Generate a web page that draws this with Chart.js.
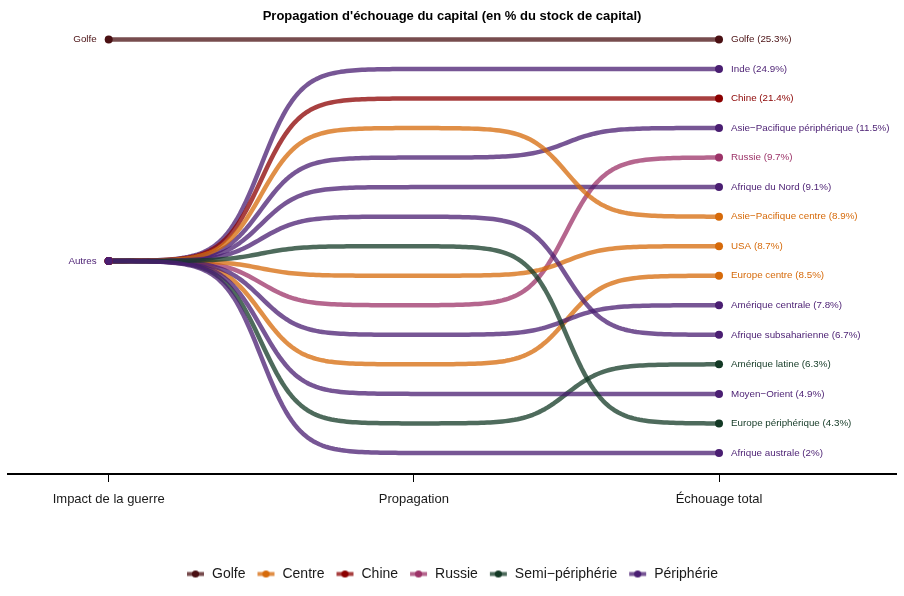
<!DOCTYPE html>
<html><head><meta charset="utf-8">
<script src="https://cdn.jsdelivr.net/npm/chart.js@4.4.1/dist/chart.umd.min.js"></script>
<style>html,body{margin:0;padding:0;background:#fff}#wrap{width:904px;height:596px;position:relative}</style>
</head><body><div id="wrap"><canvas id="c"></canvas></div>
<script>
// ---- data ----
const stageLabels = ['Impact de la guerre', 'Propagation', 'Échouage total'];
const stageX = [0, 1, 2];
const regions = ['Golfe', 'Inde', 'Chine', 'Asie−Pacifique périphérique', 'Russie', 'Afrique du Nord',
  'Asie−Pacifique centre', 'USA', 'Europe centre', 'Amérique centrale', 'Afrique subsaharienne',
  'Amérique latine', 'Moyen−Orient', 'Europe périphérique', 'Afrique australe'];
const regionGroups = ['Golfe', 'Périphérie', 'Chine', 'Périphérie', 'Russie', 'Périphérie',
  'Centre', 'Centre', 'Centre', 'Périphérie', 'Périphérie',
  'Semi−périphérie', 'Périphérie', 'Semi−périphérie', 'Périphérie'];
const strandingPct = [25.3, 24.9, 21.4, 11.5, 9.7, 9.1, 8.9, 8.7, 8.5, 7.8, 6.7, 6.3, 4.9, 4.3, 2];
const impactNodes = ['Golfe', 'Autres'];
const impactNodeRanks = [1, 8.5];
const impactNodeGroups = ['Golfe', 'Périphérie'];
const regionImpactNode = [0, 1, 1, 1, 1, 1, 1, 1, 1, 1, 1, 1, 1, 1, 1];
const rankPropagation = [1, 2, 3, 5, 10, 6, 4, 9, 12, 11, 7, 14, 13, 8, 15];
const rankFinal = [1, 2, 3, 4, 5, 6, 7, 8, 9, 10, 11, 12, 13, 14, 15];
const groups = ['Golfe', 'Centre', 'Chine', 'Russie', 'Semi−périphérie', 'Périphérie'];
const groupPointColors = ['#4a1013', '#d66a0a', '#8b0000', '#9c3368', '#133925', '#4a1e72'];
const lineAlpha = 0.75;

// ---- helpers ----
function hexToRgba(hex, a) {
  const n = parseInt(hex.slice(1), 16);
  return `rgba(${(n >> 16) & 255},${(n >> 8) & 255},${n & 255},${a})`;
}
const groupIdx = g => groups.indexOf(g);
const FONT = '"Liberation Sans", Arial, Helvetica, sans-serif';
Chart.defaults.font.family = FONT;

function legendIcon(i) {
  const c = document.createElement('canvas');
  c.width = 19; c.height = 9;
  const x = c.getContext('2d');
  x.strokeStyle = hexToRgba(groupPointColors[i], lineAlpha);
  x.lineWidth = 4;
  x.beginPath(); x.moveTo(1, 4.5); x.lineTo(18, 4.5); x.stroke();
  x.fillStyle = groupPointColors[i];
  x.beginPath(); x.arc(9.5, 4.5, 3.6, 0, Math.PI * 2); x.fill();
  return c;
}

const datasets = regions.map((r, i) => {
  const g = groupIdx(regionGroups[i]);
  const ranks = [impactNodeRanks[regionImpactNode[i]], rankPropagation[i], rankFinal[i]];
  return {
    label: r,
    data: stageX.map((x, j) => ({ x: x, y: ranks[j] })),
    showLine: false,
    pointRadius: [4, 0, 4],
    pointHoverRadius: [4, 0, 4],
    pointBackgroundColor: groupPointColors[g],
    pointBorderWidth: 0,
    lineColor: hexToRgba(groupPointColors[g], lineAlpha),
    pointColor: groupPointColors[g],
    valueText: r + ' (' + strandingPct[i] + '%)'
  };
});

const sig = t => 1 / (1 + Math.exp(-(-8 + 16 * t)));
const s0 = sig(0), s1 = sig(1);

const bumpPlugin = {
  id: 'bump',
  beforeDatasetsDraw(chart) {
    const ctx = chart.ctx;
    chart.data.datasets.forEach((ds, i) => {
      const pts = chart.getDatasetMeta(i).data;
      ctx.save();
      ctx.strokeStyle = ds.lineColor;
      ctx.lineWidth = 4.5;
      ctx.lineCap = 'butt';
      ctx.lineJoin = 'round';
      ctx.beginPath();
      ctx.moveTo(pts[0].x, pts[0].y);
      for (let k = 1; k < pts.length; k++) {
        const a = pts[k - 1], b = pts[k];
        const N = 100;
        for (let s = 1; s <= N; s++) {
          const t = s / N;
          const f = (sig(t) - s0) / (s1 - s0);
          ctx.lineTo(a.x + (b.x - a.x) * t, a.y + (b.y - a.y) * f);
        }
      }
      ctx.stroke();
      ctx.restore();
    });
  },
  afterDatasetsDraw(chart) {
    const ctx = chart.ctx;
    ctx.save();
    ctx.font = '9.8px ' + FONT;
    ctx.textBaseline = 'middle';
    // right labels
    ctx.textAlign = 'left';
    chart.data.datasets.forEach((ds, i) => {
      const pts = chart.getDatasetMeta(i).data;
      const p = pts[pts.length - 1];
      ctx.fillStyle = ds.pointColor;
      ctx.fillText(ds.valueText, p.x + 12, p.y);
    });
    // left labels
    ctx.textAlign = 'right';
    impactNodes.forEach((name, n) => {
      const i = regionImpactNode.indexOf(n);
      const p = chart.getDatasetMeta(i).data[0];
      ctx.fillStyle = groupPointColors[groupIdx(impactNodeGroups[n])];
      ctx.fillText(name, p.x - 12, p.y);
    });
    ctx.restore();
  }
};

new Chart(document.getElementById('c'), {
  type: 'scatter',
  data: { datasets },
  plugins: [bumpPlugin],
  options: {
    responsive: true,
    maintainAspectRatio: false,
    animation: false,
    events: [],
    layout: { padding: { left: 8, right: 8, top: 0, bottom: 5 } },
    scales: {
      x: {
        type: 'linear', min: -0.33, max: 2.58,
        afterBuildTicks: ax => { ax.ticks = stageX.map(v => ({ value: v })); },
        afterFit: ax => { ax.height = 82; },
        ticks: {
          callback: v => stageLabels[stageX.indexOf(v)],
          font: { size: 13 }, color: '#1a1a1a', padding: 10, autoSkip: false, maxRotation: 0
        },
        grid: { drawOnChartArea: false, drawTicks: true, tickLength: 8, tickColor: '#000', tickWidth: 1 },
        border: { display: true, color: '#000', width: 2 }
      },
      y: { type: 'linear', display: false, reverse: true, min: 0.4712, max: 15.712 }
    },
    plugins: {
      title: {
        display: true,
        text: "Propagation d'échouage du capital (en % du stock de capital)",
        font: { size: 13, weight: 'bold' }, color: '#000',
        padding: { top: 8.2, bottom: 0 }
      },
      legend: {
        display: true, position: 'bottom', onClick: null,
        labels: {
          usePointStyle: true, pointStyleWidth: 19, padding: 11,
          font: { size: 14 }, color: '#1a1a1a',
          generateLabels: () => groups.map((g, i) => ({
            text: g, pointStyle: legendIcon(i), fillStyle: groupPointColors[i],
            strokeStyle: 'rgba(0,0,0,0)', lineWidth: 0, hidden: false, fontColor: '#1a1a1a'
          }))
        }
      },
      tooltip: { enabled: false }
    }
  }
});
</script></body></html>
